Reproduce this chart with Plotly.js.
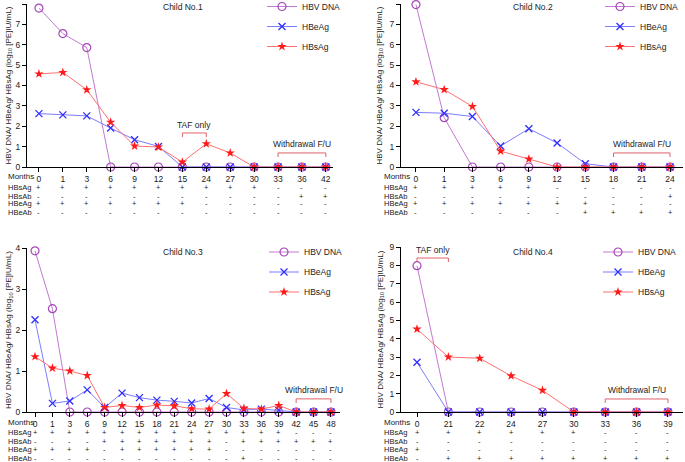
<!DOCTYPE html>
<html><head><meta charset="utf-8">
<script src="https://cdn.plot.ly/plotly-3.0.1.min.js"></script>
<style>html,body{margin:0;padding:0;background:#fff}#chart{width:685px;height:462px}</style>
</head><body><div id="chart"></div>
<script>
// ---------------- DATA ----------------
const rowLabels = ['HBsAg', 'HBsAb', 'HBeAg', 'HBeAb'];
const seriesNames = ['HBV DNA', 'HBeAg', 'HBsAg'];

// Child No.1
const months1 = ['0','1','3','6','9','12','15','24','27','30','33','36','42'];
const dna1  = [7.8, 6.55, 5.86, 0, 0, 0, 0, 0, 0, 0, 0, 0, 0];
const heag1 = [2.62, 2.56, 2.51, 1.91, 1.34, 1.01, 0, 0, 0, 0, 0, 0, 0];
const hsag1 = [4.57, 4.64, 3.79, 2.2, 1.03, 0.98, 0.24, 1.14, 0.69, 0, 0, 0, 0];
const tab1 = [
  ['+','+','+','+','+','+','+','+','+','+','-','-','-'],
  ['-','-','-','-','-','-','-','-','-','-','-','+','+'],
  ['+','+','+','+','+','+','+','-','-','-','-','-','-'],
  ['-','-','-','-','-','-','-','-','-','-','-','-','-']
];

// Child No.2
const months2 = ['0','1','3','6','9','12','15','18','21','24'];
const dna2  = [7.97, 2.42, 0, 0, 0, 0, 0, 0, 0, 0];
const heag2 = [2.68, 2.64, 2.48, 1.03, 1.88, 1.18, 0.16, 0, 0, 0];
const hsag2 = [4.18, 3.8, 2.97, 0.78, 0.39, 0, 0, 0, 0, 0];
const tab2 = [
  ['+','+','+','+','+','-','-','-','-','-'],
  ['-','-','-','-','-','-','-','-','-','+'],
  ['+','+','+','+','+','+','+','-','-','-'],
  ['-','-','-','-','-','-','+','+','+','+']
];

// Child No.3
const months3 = ['0','1','3','6','9','12','15','18','21','24','27','30','33','36','39','42','45','48'];
const dna3  = [3.93, 2.52, 0, 0, 0, 0, 0, 0, 0, 0, 0, 0, 0, 0, 0, 0, 0, 0];
const heag3 = [2.25, 0.21, 0.27, 0.54, 0.11, 0.46, 0.35, 0.29, 0.26, 0.22, 0.33, 0.11, 0.05, 0.07, 0.04, 0, 0, 0];
const hsag3 = [1.35, 1.07, 1.0, 0.89, 0.11, 0.16, 0.11, 0.17, 0.15, 0.08, 0.07, 0.45, 0.09, 0.07, 0.16, 0, 0, 0];
const tab3 = [
  ['+','+','+','+','+','+','+','+','+','+','+','+','+','+','+','-','-','-'],
  ['-','-','-','-','+','+','+','+','+','+','+','-','+','+','+','+','+','+'],
  ['+','+','+','+','-','+','+','+','+','+','+','-','-','-','-','-','-','-'],
  ['-','-','-','-','-','-','-','-','-','-','-','-','+','-','-','-','-','-']
];

// Child No.4
const months4 = ['0','21','22','24','27','30','33','36','39'];
const dna4  = [7.98, 0, 0, 0, 0, 0, 0, 0, 0];
const heag4 = [2.71, 0, 0, 0, 0, 0, 0, 0, 0];
const hsag4 = [4.52, 3.0, 2.93, 1.97, 1.18, 0, 0, 0, 0];
const tab4 = [
  ['+','+','+','+','+','+','-','-','-'],
  ['-','-','-','-','-','-','-','-','-'],
  ['+','-','-','-','-','-','-','-','-'],
  ['-','+','+','+','+','+','+','+','+']
];

const titles = ['Child No.1', 'Child No.2', 'Child No.3', 'Child No.4'];

// ---------------- LAYOUT HELPERS ----------------
const W = 685, H = 462;
const px = x => x / W;
const py = y => 1 - y / H;
const FONT = 'Liberation Sans, Arial, sans-serif';
const TXT = '#222';

const panels = [
  {months: months1, dna: dna1, heag: heag1, hsag: hsag1, tab: tab1, ymax: 8,
   xl: 27, xr: 333, xrange: [-0.5, 12.3], yTop: 4, yBot: 167,
   legX: 262, legY: -8, titleX: 183, titleY: 7, ytitleX: 9,
   rowLabelX: 7, rowsY: [187, 196, 204, 212], monthsY: 176,
   brackets: [{x0: 6, x1: 7, y0: 1.47, y1: 1.67, text: 'TAF only', ty: 2.08},
              {x0: 10, x1: 12, y0: 0.49, y1: 0.69, text: 'Withdrawal F/U', ty: 1.13}]},
  {months: months2, dna: dna2, heag: heag2, hsag: hsag2, tab: tab2, ymax: 8,
   xl: 401, xr: 683, xrange: [-0.53, 9.46], yTop: 4, yBot: 167,
   legX: 600, legY: -8, titleX: 533, titleY: 7, ytitleX: 380,
   rowLabelX: 383, rowsY: [187, 196, 204, 212], monthsY: 176,
   brackets: [{x0: 7, x1: 9, y0: 0.49, y1: 0.69, text: 'Withdrawal F/U', ty: 1.13}]},
  {months: months3, dna: dna3, heag: heag3, hsag: hsag3, tab: tab3, ymax: 4,
   xl: 27, xr: 340, xrange: [-0.46, 17.52], yTop: 248, yBot: 412,
   legX: 264, legY: 237.5, titleX: 183, titleY: 252, ytitleX: 9,
   rowLabelX: 7, rowsY: [432, 441, 449, 458], monthsY: 422,
   brackets: [{x0: 15, x1: 17, y0: 0.22, y1: 0.32, text: 'Withdrawal F/U', ty: 0.54}]},
  {months: months4, dna: dna4, heag: heag4, hsag: hsag4, tab: tab4, ymax: 9,
   xl: 401, xr: 683, xrange: [-0.51, 8.48], yTop: 247, yBot: 412,
   legX: 598, legY: 237.5, titleX: 533, titleY: 252, ytitleX: 380,
   rowLabelX: 383, rowsY: [432, 441, 449, 458], monthsY: 422,
   brackets: [{x0: 0, x1: 1, y0: 8.18, y1: 8.4, text: 'TAF only', ty: 8.84},
              {x0: 6, x1: 8, y0: 0.49, y1: 0.71, text: 'Withdrawal F/U', ty: 1.2}]}
];

const styles = [
  {name: seriesNames[0], line: '#c27ad0', marker: {symbol: 'circle-open', size: 8, color: '#a646b8', line: {width: 1.2, color: '#a646b8'}}},
  {name: seriesNames[1], line: '#7d7dff', marker: {symbol: 'x-thin-open', size: 7, color: '#2f2fff', line: {width: 1.3, color: '#2f2fff'}}},
  {name: seriesNames[2], line: '#ff7070', marker: {symbol: 'star', size: 7, color: '#ff1a1a', line: {width: 0}}}
];

const data = [];
const layout = {
  width: W, height: H,
  margin: {l: 0, r: 0, t: 0, b: 0, pad: 0, autoexpand: false},
  paper_bgcolor: '#fff', plot_bgcolor: 'rgba(0,0,0,0)',
  font: {family: FONT, size: 8.5, color: TXT},
  annotations: [], shapes: []
};

panels.forEach((p, k) => {
  const n = k + 1;
  const xa = 'x' + (n === 1 ? '' : n), ya = 'y' + (n === 1 ? '' : n);
  const legName = 'legend' + (n === 1 ? '' : n);
  const series = [p.dna, p.heag, p.hsag];
  series.forEach((vals, s) => {
    data.push({
      type: 'scatter', mode: 'lines+markers',
      x: p.months, y: vals, name: styles[s].name,
      xaxis: xa, yaxis: ya, legend: legName, legendgroup: legName + s,
      line: {color: styles[s].line, width: 1},
      marker: styles[s].marker, cliponaxis: false, hoverinfo: 'skip'
    });
  });

  layout['xaxis' + (n === 1 ? '' : n)] = {
    type: 'category', domain: [px(p.xl), px(p.xr)], range: p.xrange,
    anchor: ya, showline: true, linecolor: '#000', linewidth: 1,
    ticks: 'outside', ticklen: 4, tickwidth: 1, tickcolor: '#000',
    showgrid: false, zeroline: false, tickfont: {family: FONT, size: 8.5, color: TXT},
    fixedrange: true, automargin: false
  };
  layout['yaxis' + (n === 1 ? '' : n)] = {
    domain: [py(p.yBot), py(p.yTop)], range: [0, p.ymax],
    anchor: xa, showline: true, linecolor: '#000', linewidth: 1,
    ticks: 'outside', ticklen: 4, tickwidth: 1, tickcolor: '#000', dtick: 1,
    showgrid: false, zeroline: false, tickfont: {family: FONT, size: 8.5, color: TXT},
    fixedrange: true, automargin: false
  };
  layout[legName] = {
    x: px(p.legX), y: py(p.legY), xanchor: 'left', yanchor: 'top',
    xref: 'paper', yref: 'paper',
    bgcolor: 'rgba(0,0,0,0)', font: {family: FONT, size: 8.5, color: TXT},
    tracegroupgap: 1, traceorder: 'grouped', itemclick: false
  };

  // Titles
  layout.annotations.push({xref: 'paper', yref: 'paper', x: px(p.titleX), y: py(p.titleY),
    text: titles[k], showarrow: false, xanchor: 'center', yanchor: 'middle',
    font: {family: FONT, size: 8.5, color: TXT}});
  // Y title
  layout.annotations.push({xref: 'paper', yref: 'paper', x: px(p.ytitleX), y: py((p.yTop + p.yBot) / 2),
    text: 'HBV DNA/ HBeAg/ HBsAg (log<sub>10</sub> [PE]IU/mL)', textangle: -90, showarrow: false,
    xanchor: 'center', yanchor: 'middle', font: {family: FONT, size: 8, color: TXT}});
  // Months label
  layout.annotations.push({xref: 'paper', yref: 'paper', x: px(p.rowLabelX), y: py(p.monthsY),
    text: 'Months', showarrow: false, xanchor: 'left', yanchor: 'middle', borderpad: 0,
    font: {family: FONT, size: 8, color: TXT}});
  // Table
  rowLabels.forEach((lab, r) => {
    layout.annotations.push({xref: 'paper', yref: 'paper', x: px(p.rowLabelX), y: py(p.rowsY[r]),
      text: lab, showarrow: false, xanchor: 'left', yanchor: 'middle', borderpad: 0,
      font: {family: FONT, size: 7.5, color: TXT}});
    p.tab[r].forEach((v, i) => {
      layout.annotations.push({xref: xa, yref: 'paper', x: i, y: py(p.rowsY[r]),
        text: v, showarrow: false, xanchor: 'center', yanchor: 'middle', borderpad: 0,
        font: {family: FONT, size: 7.5, color: TXT}});
    });
  });
  // Brackets
  p.brackets.forEach(b => {
    const st = {xref: xa, yref: ya, type: 'line', line: {color: '#e0606a', width: 1}};
    layout.shapes.push(Object.assign({}, st, {x0: b.x0, x1: b.x1, y0: b.y1, y1: b.y1}));
    layout.shapes.push(Object.assign({}, st, {x0: b.x0, x1: b.x0, y0: b.y0, y1: b.y1}));
    layout.shapes.push(Object.assign({}, st, {x0: b.x1, x1: b.x1, y0: b.y0, y1: b.y1}));
    layout.annotations.push({xref: xa, yref: ya, x: (b.x0 + b.x1) / 2, y: b.ty,
      text: b.text, showarrow: false, xanchor: 'center', yanchor: 'middle',
      font: {family: FONT, size: 8.5, color: TXT}});
  });
});

Plotly.newPlot('chart', data, layout, {displayModeBar: false, staticPlot: true});
</script>
</body></html>
